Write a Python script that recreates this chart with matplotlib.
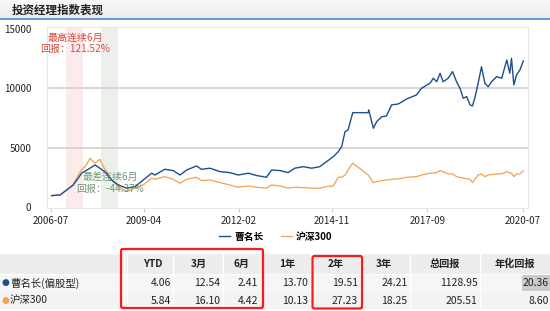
import numpy as np
import matplotlib
matplotlib.use('Agg')
from matplotlib import pyplot as plt
from matplotlib.patches import Rectangle, FancyBboxPatch

plt.rcParams['font.family'] = ['Noto Sans CJK SC', 'DejaVu Sans']

# time axis in decimal years
blue_t = [2006.52, 2006.77, 2006.97, 2007.16, 2007.31, 2007.41, 2007.66, 2007.81, 2007.95,
          2008.10, 2008.30, 2008.50, 2008.75, 2009.00, 2009.24, 2009.49, 2009.59, 2009.88,
          2010.13, 2010.33, 2010.53, 2010.82, 2010.97, 2011.22, 2011.52, 2011.81, 2012.06,
          2012.36, 2012.61, 2012.90, 2013.05, 2013.30, 2013.54, 2013.74, 2013.99, 2014.24,
          2014.48, 2014.68, 2014.88, 2015.03, 2015.13, 2015.23, 2015.32, 2015.40, 2015.46,
          2015.92, 2015.93, 2015.97, 2016.07, 2016.17, 2016.32, 2016.46, 2016.61, 2016.81,
          2017.06, 2017.35, 2017.50, 2017.75, 2017.85, 2017.95, 2018.05, 2018.14, 2018.29,
          2018.42, 2018.54, 2018.64, 2018.74, 2018.84, 2018.94, 2019.01, 2019.08, 2019.18,
          2019.28, 2019.38, 2019.48, 2019.58, 2019.73, 2019.88, 2020.03, 2020.12, 2020.17,
          2020.24, 2020.32, 2020.42, 2020.52]
blue_v = [975, 1030, 1450, 1870, 2440, 2860, 3280, 3550, 3280,
          2990, 2290, 1870, 1600, 1730, 2290, 2860, 2710, 3190,
          3080, 2710, 3130, 3470, 3190, 3280, 2990, 2910, 2710,
          2860, 2660, 2520, 3130, 3080, 2910, 3280, 3410, 3280,
          3410, 3830, 4250, 4670, 5090, 6350, 6500, 7340, 7950,
          7950, 8180, 7760, 6640, 7200, 7610, 7670, 8600, 8680,
          9100, 9440, 10000, 10420, 10840, 10550, 11260, 10550, 10840,
          11400, 10550, 10000, 9160, 9300, 8600, 8510, 9160, 10420,
          11810, 10420, 10130, 10550, 10980, 10840, 12380, 11260, 12520,
          10280, 11120, 11540, 12290]

orange_t = [2006.52, 2006.77, 2006.97, 2007.16, 2007.31, 2007.41, 2007.54, 2007.66, 2007.81,
            2007.95, 2008.10, 2008.30, 2008.50, 2008.75, 2009.00, 2009.24, 2009.49, 2009.59,
            2009.88, 2010.13, 2010.33, 2010.53, 2010.82, 2010.97, 2011.22, 2011.52, 2011.81,
            2012.06, 2012.36, 2012.61, 2012.90, 2013.05, 2013.30, 2013.54, 2013.74, 2013.99,
            2014.24, 2014.48, 2014.68, 2014.88, 2015.03, 2015.13, 2015.23, 2015.32, 2015.40,
            2015.46, 2015.92, 2016.07, 2016.17, 2016.32, 2016.46, 2016.61, 2016.81, 2017.06,
            2017.35, 2017.50, 2017.75, 2017.95, 2018.05, 2018.29, 2018.42, 2018.54, 2018.74,
            2018.94, 2019.01, 2019.18, 2019.28, 2019.38, 2019.48, 2019.73, 2019.88, 2020.03,
            2020.17, 2020.24, 2020.32, 2020.42, 2020.52]
orange_v = [975, 1030, 1450, 1870, 2710, 3130, 3500, 4120, 3700,
            4030, 3190, 2290, 1730, 1310, 1620, 1870, 2440, 2350,
            2570, 2350, 2020, 2350, 2520, 2240, 2290, 2070, 1870,
            1680, 1790, 1680, 1600, 1870, 1790, 1600, 1680, 1650,
            1600, 1600, 1730, 1790, 2520, 2520, 2710, 3130, 3470,
            3700, 2710, 2070, 2150, 2240, 2290, 2350, 2380, 2520,
            2570, 2710, 2860, 2910, 3080, 2800, 2800, 2570, 2440,
            2350, 2070, 2710, 2800, 2570, 2710, 2800, 2800, 2990,
            2860, 2570, 2800, 2800, 3055]

xtick_pos = [2006.5, 2009.25, 2012.083, 2014.833, 2017.667, 2020.5]
xtick_labels = ['2006-07', '2009-04', '2012-02', '2014-11', '2017-09', '2020-07']
yticks = [0, 5000, 10000, 15000]

best_span = (2006.94, 2007.44)
worst_span = (2007.99, 2008.49)
best_text = '最高连续6月\n回报：121.52%'
worst_text = '最差连续6月\n回报：-44.37%'

names = ['曹名长', '沪深300']
row_labels = ['曹名长(偏股型)', '沪深300']
columns = ['YTD', '3月', '6月', '1年', '2年', '3年', '总回报', '年化回报']
fund_row = ['4.06', '12.54', '2.41', '13.70', '19.51', '24.21', '1128.95', '20.36']
index_row = ['5.84', '16.10', '4.42', '10.13', '27.23', '18.25', '205.51', '8.60']

BLUE = '#1d4f8b'
ORANGE = '#f2a24e'

W, H = 550, 311
fig = plt.figure(figsize=(W / 100, H / 100), dpi=100)

# title bar
bar = fig.add_axes([0, 1 - 18 / H, 1, 18 / H])
grad = np.linspace(0.975, 0.925, 20).reshape(-1, 1)
bar.imshow(grad, aspect='auto', cmap='gray', vmin=0, vmax=1, extent=[0, 1, 0, 1])
bar.set_xlim(0, 1)
bar.set_ylim(0, 1)
bar.axis('off')
fig.text(12 / W, 1 - 10 / H, '投资经理指数表现', fontsize=8.3, fontweight='bold',
         color='#222222', va='center', ha='left')
fig.add_artist(plt.Line2D([0, 1], [1 - 18.8 / H, 1 - 18.8 / H], color='#5b8ccf', lw=1.3))

# main chart
ax = fig.add_axes([46.7 / W, 1 - 207.7 / H, (528 - 46.7) / W, (207.7 - 27) / H])
ax.axvspan(*best_span, color='#fbeceb', lw=0)
ax.axvspan(*worst_span, color='#ebf1ea', lw=0)
for yv in yticks[1:3]:
    ax.axhline(yv, color='#d4d4d4', lw=1.3, zorder=1)
l1, = ax.plot(blue_t, blue_v, color=BLUE, lw=1.0, zorder=3)
l2, = ax.plot(orange_t, orange_v, color=ORANGE, lw=0.9, zorder=2)
ax.set_xlim(2006.375, 2020.66)
ax.set_ylim(-40, 15150)
ax.set_yticks(yticks)
ax.set_yticklabels([str(v) for v in yticks])
ax.set_xticks(xtick_pos)
ax.set_xticklabels(xtick_labels)
ax.tick_params(axis='y', length=0, pad=11, labelsize=7, labelcolor='#222222')
ax.tick_params(axis='x', length=3, color='#cccccc', pad=3, labelsize=7, labelcolor='#222222')
for s in ax.spines.values():
    s.set_color('#e6e6e6')
    s.set_linewidth(0.8)

ax.text(0.5 * (best_span[0] + best_span[1]) + 0.02, 13750, best_text, color='#d9463f',
        fontsize=7.2, ha='center', va='center', linespacing=1.2, zorder=5)
ax.text(2008.25, 2030, worst_text, color='#4f7d58', alpha=0.8,
        fontsize=7.2, ha='center', va='center', linespacing=1.2, zorder=5)

fig.legend([l1, l2], names, loc='center', bbox_to_anchor=(276 / W, 1 - 236.7 / H), ncol=2,
           frameon=False, handlelength=1.1, handletextpad=0.45, columnspacing=1.8,
           prop={'size': 7, 'weight': 'bold'})

# table
tb = fig.add_axes([0, 0, 1, 1])
tb.set_xlim(0, W)
tb.set_ylim(H, 0)
tb.axis('off')
tb.patch.set_alpha(0)

col_edges = [0, 124, 173, 223, 262, 311, 360, 410, 480, 550]
col_right = [170.7, 220, 258.3, 308.3, 357.7, 407.7, 477.7, 549]
head_center = [152.7, 199.3, 241.7, 286.7, 336, 384.3, 445, 515]
rows_y = [(254, 274), (274.5, 291.5), (292, 309)]
row_bg = ['#ededed', '#f6f6f6', '#f3f3f3']

for (y0, y1), c in zip(rows_y, row_bg):
    tb.add_patch(Rectangle((0, y0), W, y1 - y0, facecolor=c, edgecolor='none'))
for xe in col_edges[1:-1]:
    tb.plot([xe, xe], [254, 309], color='white', lw=1.0)
tb.plot([127, 127], [254, 309], color='white', lw=1.0)
tb.add_patch(Rectangle((522, 275), 28, 16, facecolor='#cbcbcb', edgecolor='none'))

yh = 0.5 * sum(rows_y[0])
for name, xc in zip(columns, head_center):
    tb.text(xc, yh, name, ha='center', va='center', fontsize=7.3, fontweight='bold', color='#222222')

for (y0, y1), lab, vals, dc in zip(rows_y[1:], row_labels, [fund_row, index_row], [BLUE, ORANGE]):
    yc = 0.5 * (y0 + y1)
    tb.text(1.5, yc, '●', ha='left', va='center', fontsize=6.5, color=dc, family='DejaVu Sans')
    tb.text(10, yc, lab, ha='left', va='center', fontsize=7.5, color='#222222')
    for v, xr in zip(vals, col_right):
        tb.text(xr, yc, v, ha='right', va='center', fontsize=7.5, color='#222222')

for (x0, y0, x1, y1) in [(121, 249, 263, 308), (312.5, 256, 362, 308.5)]:
    tb.add_patch(FancyBboxPatch((x0, y0), x1 - x0, y1 - y0,
                                boxstyle='round,pad=0,rounding_size=2',
                                facecolor='none', edgecolor='#ff1a1a', lw=1.6, zorder=6))

fig.savefig('out.png', dpi=100)
